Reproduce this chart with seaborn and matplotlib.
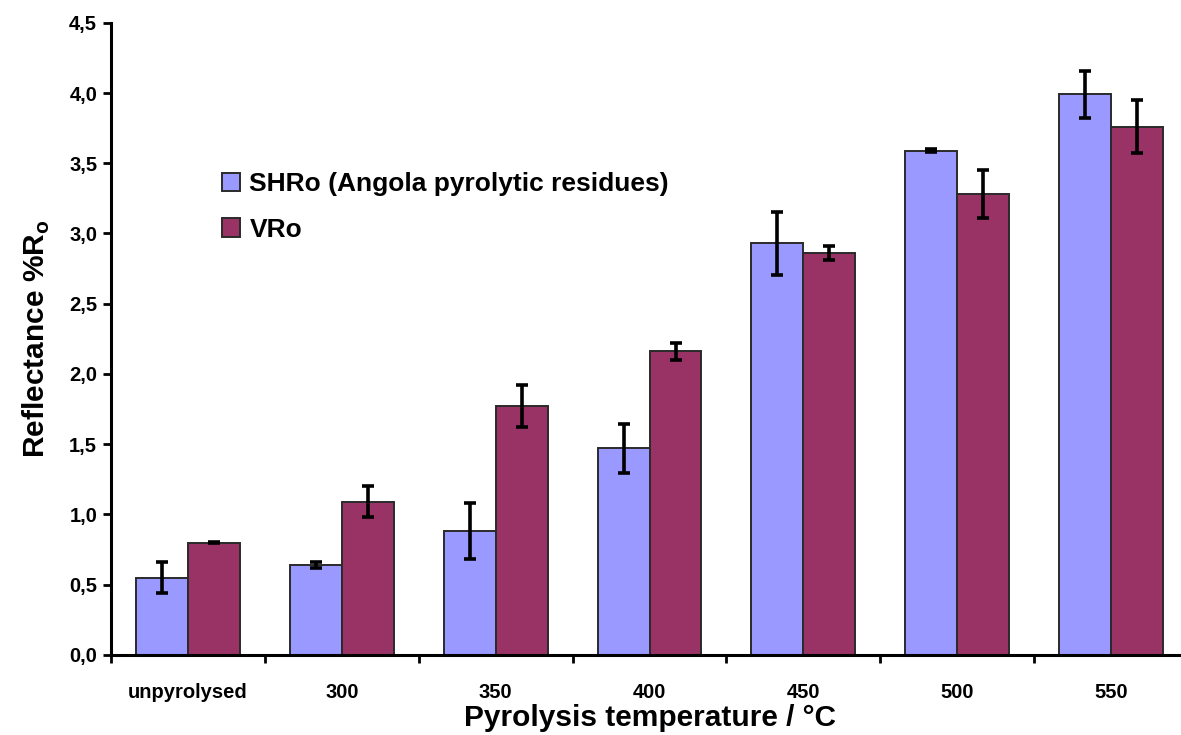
import matplotlib
matplotlib.use("Agg")
import matplotlib.pyplot as plt
from matplotlib.ticker import FuncFormatter, FixedLocator
import numpy as np
import pandas as pd
import seaborn as sns

# values
temps = ['unpyrolysed', '300', '350', '400', '450', '500', '550']
shro = [0.55, 0.64, 0.88, 1.47, 2.93, 3.59, 3.99]
shro_err = [0.11, 0.02, 0.20, 0.175, 0.225, 0.01, 0.17]
vro = [0.80, 1.09, 1.77, 2.16, 2.86, 3.28, 3.76]
vro_err = [0.005, 0.11, 0.15, 0.06, 0.05, 0.17, 0.19]
series = ['SHRo (Angola pyrolytic residues)', 'VRo']

df = pd.DataFrame({
    'temp': temps * 2,
    'series': [series[0]] * len(temps) + [series[1]] * len(temps),
    'value': shro + vro,
})
errs = [shro_err, vro_err]

sns.set_style('white')
plt.rcParams['font.family'] = ['Liberation Sans', 'DejaVu Sans']
plt.rcParams['font.weight'] = 'bold'
plt.rcParams['text.color'] = 'black'
plt.rcParams['axes.labelcolor'] = 'black'
plt.rcParams['xtick.color'] = 'black'
plt.rcParams['ytick.color'] = 'black'
plt.rcParams['mathtext.fontset'] = 'custom'
plt.rcParams['mathtext.rm'] = 'Liberation Sans:bold'

fig = plt.figure(figsize=(11.81, 7.35), dpi=100)
ax = fig.add_axes([0.094, 0.109, 0.912, 0.860])

sns.barplot(data=df, x='temp', y='value', hue='series', order=temps,
            hue_order=series, palette=['#9999FF', '#993366'], width=0.675,
            gap=0, edgecolor='#2a2a2a', linewidth=1.4, saturation=1,
            errorbar=None, ax=ax)

for cont, err in zip(ax.containers, errs):
    xs = [p.get_x() + p.get_width() / 2 for p in cont]
    ys = [p.get_height() for p in cont]
    ax.errorbar(xs, ys, yerr=err, fmt='none', ecolor='black',
                elinewidth=2.6, capsize=4.5, capthick=2.6, zorder=5)

ax.set_ylim(0, 4.5)
ax.set_xlim(-0.5, 6.5)
ax.set_yticks(np.arange(0, 4.51, 0.5))
ax.yaxis.set_major_formatter(FuncFormatter(lambda v, p: f'{v:.1f}'.replace('.', ',')))
ax.tick_params(axis='y', left=True, direction='out', length=6, width=2,
               labelsize=14.5, pad=4)
ax.tick_params(axis='x', which='major', bottom=True, length=0, labelsize=14.5, pad=20)
ax.xaxis.set_minor_locator(FixedLocator(np.arange(-0.5, 7, 1)))
ax.tick_params(axis='x', which='minor', bottom=True, direction='out', length=6, width=2)
for lab in ax.get_xticklabels() + ax.get_yticklabels():
    lab.set_fontweight('bold')

for s in ['top', 'right']:
    ax.spines[s].set_visible(False)
for s in ['left', 'bottom']:
    ax.spines[s].set_linewidth(2.2)
    ax.spines[s].set_color('black')

ax.set_xlabel('Pyrolysis temperature / °C', fontsize=21.5, fontweight='bold', labelpad=2)
ax.set_ylabel('Reflectance %R$_\\mathrm{o}$', fontsize=21.5, fontweight='bold', labelpad=12)

ax.legend(loc='upper left', bbox_to_anchor=(0.093, 0.78), frameon=False,
          fontsize=19, handlelength=0.7, handleheight=0.7, handletextpad=0.35,
          labelspacing=0.8, borderaxespad=0)
for t in ax.get_legend().get_texts():
    t.set_fontweight('bold')

fig.savefig('out.png', dpi=100)
